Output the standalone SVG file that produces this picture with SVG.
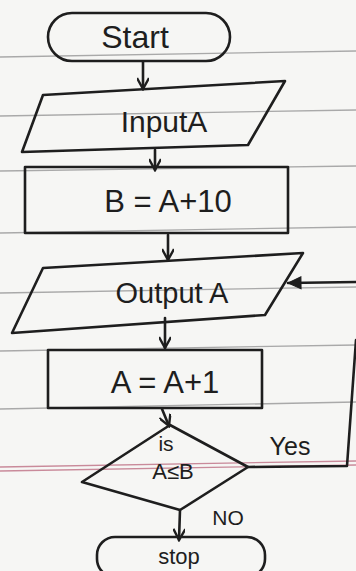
<svg xmlns="http://www.w3.org/2000/svg" width="356" height="571" viewBox="0 0 356 571">
<style>
.ink{fill:none;stroke:#1e1e1e;stroke-width:2.6;stroke-linejoin:round;stroke-linecap:round}
.rule{stroke:#a9a9a9;stroke-width:1.3}
.pink{stroke:#c98a9a;stroke-width:1.3}
.t{font-family:"Liberation Sans","DejaVu Sans",sans-serif;fill:#1e1e1e;text-anchor:middle}
</style>
<defs>
<marker id="v" markerWidth="14" markerHeight="12" refX="12" refY="6" orient="auto" markerUnits="userSpaceOnUse">
<path d="M1,0 L12,6 L1,12" fill="none" stroke="#1e1e1e" stroke-width="2.4"/>
</marker>
<marker id="tri" markerWidth="16" markerHeight="14" refX="14" refY="7" orient="auto" markerUnits="userSpaceOnUse">
<path d="M1,1 L14,7 L1,13 Z" fill="#1e1e1e" stroke="#1e1e1e" stroke-width="1"/>
</marker>
</defs>
<rect width="356" height="571" fill="#f6f6f4"/>
<g id="paper">
<line class="rule" x1="0" y1="57" x2="356" y2="51"/>
<line class="rule" x1="0" y1="116" x2="356" y2="110"/>
<line class="rule" x1="0" y1="171" x2="356" y2="166"/>
<line class="rule" x1="0" y1="233" x2="356" y2="227"/>
<line class="rule" x1="0" y1="293" x2="356" y2="287"/>
<line class="rule" x1="0" y1="351" x2="356" y2="345"/>
<line class="rule" x1="0" y1="409" x2="356" y2="402"/>
<line class="pink" x1="0" y1="467" x2="356" y2="461"/>
<line class="pink" x1="0" y1="471" x2="356" y2="465"/>
</g>
<g id="connectors">
<line class="ink" x1="143" y1="62" x2="143" y2="89" marker-end="url(#v)"/>
<line class="ink" x1="155" y1="150" x2="155" y2="170" marker-end="url(#v)"/>
<line class="ink" x1="168" y1="235" x2="168" y2="260" marker-end="url(#v)"/>
<line class="ink" x1="165" y1="318" x2="165" y2="348" marker-end="url(#v)"/>
<line class="ink" x1="162" y1="409" x2="169" y2="426" marker-end="url(#v)"/>
<polyline class="ink" points="248,467 347,466 356,340"/>
<line class="ink" x1="356" y1="282" x2="288" y2="283" marker-end="url(#tri)"/>
<line class="ink" x1="180" y1="510" x2="179" y2="540" marker-end="url(#v)"/>
<text class="t" x="290" y="455" font-size="25">Yes</text>
<text class="t" x="228" y="525" font-size="21">NO</text>
</g>
<g id="start">
<rect class="ink" x="48" y="13" width="182" height="48" rx="24"/>
<text class="t" x="135" y="48" font-size="32">Start</text>
</g>
<g id="input">
<polygon class="ink" points="43,95 285,81 248,145 22,152"/>
<text class="t" x="164" y="132" font-size="30">InputA</text>
</g>
<g id="assignB">
<rect class="ink" x="25" y="167" width="263" height="66"/>
<text class="t" x="168" y="212" font-size="31">B = A+10</text>
</g>
<g id="output">
<polygon class="ink" points="43,268 303,253 265,315 12,333"/>
<text class="t" x="172" y="303" font-size="29">Output A</text>
</g>
<g id="incA">
<rect class="ink" x="48" y="350" width="214" height="58"/>
<text class="t" x="165" y="393" font-size="31">A = A+1</text>
</g>
<g id="decision">
<polygon class="ink" points="170,425 248,467 180,510 82,482"/>
<text class="t" x="166" y="451" font-size="21">is</text>
<text class="t" x="173" y="479" font-size="22">A≤B</text>
</g>
<g id="stop">
<rect class="ink" x="97" y="537" width="168" height="40" rx="18"/>
<text class="t" x="179" y="564" font-size="22">stop</text>
</g>
</svg>
